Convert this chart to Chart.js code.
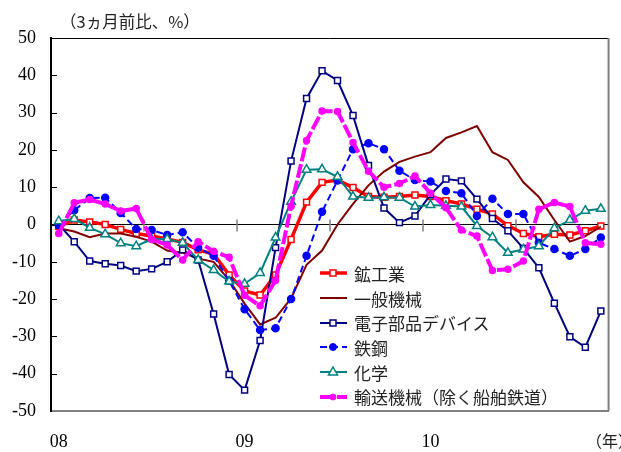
<!DOCTYPE html>
<html>
<head>
<meta charset="utf-8">
<script src="https://cdn.jsdelivr.net/npm/chart.js@4.4.0/dist/chart.umd.min.js"></script>
<style>
body { margin: 0; background: #fff; }
#wrap { position: relative; width: 621px; height: 452px; }
#chart { position: absolute; left: 0; top: 0; }
.txt { position: absolute; font-family: "Noto Sans CJK JP", sans-serif; font-size: 16px; color: #222; white-space: nowrap; line-height: 1; }
#legend { position: absolute; left: 318px; top: 261px; }
.row { height: 24.7px; display: flex; align-items: center; font-family: "Noto Sans CJK JP", sans-serif; font-size: 17px; color: #222; white-space: nowrap; }
.row svg { margin-right: 4px; }
</style>
</head>
<body>
<div id="wrap">
  <canvas id="chart" width="621" height="452"></canvas>
  <div class="txt" style="left:60px;top:13px;font-size:16.5px;">（3ヵ月前比、%）</div>
  <div class="txt" style="left:586px;top:432px;">（年）</div>
  <div id="legend"></div>
</div>
<script>
// --- Data (3ヵ月前比, %), monthly Jan 2008 - Dec 2010 ---
const years = ['08', '09', '10'];
const monthsPerYear = 12;
const categories = [];
years.forEach(y => { for (let m = 1; m <= monthsPerYear; m++) categories.push(y + '/' + m); });

const yTicks = [-50, -40, -30, -20, -10, 0, 10, 20, 30, 40, 50];

const mining = [-0.5, 1.2, 0.7, 0, -1.3, -2.4, -3.1, -3.9, -4.8, -6.8, -7.9, -13.5,
    -17.8, -18.9, -13.5, -4, 6, 11.3, 11.9, 9.9, 7.5, 7.3, 7.5, 7.9,
    7.5, 6.4, 5.5, 4.1, 2.8, -0.3, -2.4, -3.3, -2.6, -2.8, -1.7, -0.4];
const generalMachinery = [-1, -1.9, -3.4, -2.4, -2.4, -3.3, -4.6, -7, -7.6, -9.1, -10, -14.9,
    -21.2, -26.8, -25, -19.8, -10.8, -7, 0, 5.5, 10.5, 14.2, 16.8, 18.2,
    19.4, 23.2, 24.7, 26.4, 19.4, 17.3, 11.3, 7.4, 1.2, -4.6, -3.1, -0.6];
const electronics = [0, -4.6, -9.8, -10.5, -11, -12.5, -11.9, -10, -6.8, -9.5, -24, -40.2,
    -44.4, -31.1, -6.2, 17, 33.8, 41.2, 38.6, 29.2, 15.8, 4.4, 0.5, 2.3,
    8, 12.2, 11.7, 6.8, 1.6, -1.7, -6.4, -11.6, -21.1, -30.1, -32.9, -23.2];
const steel = [-0.1, 3.8, 7.1, 7.2, 3.1, -1.2, -1.5, -2.8, -2.1, -6.2, -8.4, -15.1,
    -22.7, -28.3, -27.8, -20, -8.4, 3.4, 11.8, 20.2, 21.8, 20.2, 14.4, 11.9,
    11.5, 9, 8.4, 2.3, 6.9, 2.8, 2.8, -4.9, -6.6, -8.4, -6.6, -3.5];
const chemicals = [0.9, 1.5, -0.9, -2.6, -5, -5.8, -3.9, -3.9, -4.9, -9.5, -12.2, -15.3,
    -15.9, -13, -3.5, 6.1, 14.7, 14.8, 12.8, 7.5, 7.2, 7.3, 7.2, 4.8,
    5.2, 5, 4.8, -0.4, -3.4, -7.6, -6.7, -5.8, -1, 1.2, 3.7, 4.2];
const transport = [-2.4, 5.8, 6.7, 5.5, 3.6, 4.3, -4, -5.5, -9.5, -4.6, -7.2, -8.8,
    -19, -21.8, -15, 4.9, 22.5, 30.4, 30.3, 22, 14.3, 10, 11, 13,
    8.4, 4.5, -1.5, -3.1, -12.3, -12, -9.8, 4.1, 5.9, 4.8, -4.9, -5.3];

const series = [
    { label: '鉱工業', data: mining, color: '#ff0000', width: 3.5, marker: 'rect', radius: 4.2, fill: '#ffffff' },
    { label: '一般機械', data: generalMachinery, color: '#800000', width: 2, marker: false, radius: 0 },
    { label: '電子部品デバイス', data: electronics, color: '#000080', width: 2, marker: 'rect', radius: 4.2, fill: '#ffffff' },
    { label: '鉄鋼', data: steel, color: '#0000ff', width: 2, dash: [7, 4], marker: 'circle', radius: 3.5, fill: '#0000ff' },
    { label: '化学', data: chemicals, color: '#008080', width: 2, marker: 'triangle', radius: 5, fill: '#ffffff' },
    { label: '輸送機械（除く船舶鉄道）', data: transport, color: '#ff00ff', width: 4, dash: [14, 3], marker: 'circle', radius: 3, fill: '#ff00ff' }
];

// --- Frame, inner ticks and half-year marks on the zero line ---
const framePlugin = {
    id: 'frame',
    beforeDatasetsDraw(chart) {
        const { ctx, chartArea: a, scales: { x, y } } = chart;
        ctx.save();
        const y0 = Math.round(y.getPixelForValue(0)) + 0.5;
        ctx.strokeStyle = '#808080';
        ctx.lineWidth = 1.5;
        ctx.beginPath();
        for (let k = 6; k < categories.length; k += 6) {
            const px = Math.round((x.getPixelForValue(k - 1) + x.getPixelForValue(k)) / 2);
            ctx.moveTo(px, y0 - 6);
            ctx.lineTo(px, y0 + 6);
        }
        ctx.stroke();

        ctx.strokeStyle = '#000';
        ctx.lineWidth = 1;
        ctx.beginPath();
        yTicks.forEach(v => {
            if (v === yTicks[0] || v === yTicks[yTicks.length - 1]) return;
            const py = Math.round(y.getPixelForValue(v)) + 0.5;
            ctx.moveTo(a.left, py);
            ctx.lineTo(a.left + 6, py);
        });
        ctx.stroke();

        // top and right border
        ctx.beginPath();
        ctx.strokeStyle = '#000';
        ctx.moveTo(a.left, a.top + 0.5);
        ctx.lineTo(a.right, a.top + 0.5);
        ctx.stroke();
        ctx.beginPath();
        ctx.strokeStyle = '#808080';
        ctx.lineWidth = 2;
        ctx.moveTo(a.right, a.top);
        ctx.lineTo(a.right, a.bottom);
        ctx.stroke();
        ctx.restore();
    }
};

const datasets = series.map((s, i) => ({
    label: s.label,
    data: s.data,
    borderColor: s.color,
    borderWidth: s.width,
    borderDash: s.dash || [],
    pointStyle: s.marker,
    pointRadius: s.radius,
    pointBackgroundColor: s.fill || s.color,
    pointBorderColor: s.color,
    pointBorderWidth: 1.5,
    tension: 0,
    order: series.length - i
}));

new Chart(document.getElementById('chart'), {
    type: 'line',
    data: { labels: categories, datasets },
    options: {
        responsive: false,
        animation: false,
        devicePixelRatio: 1,
        layout: { padding: { left: 0, right: 12, top: 38, bottom: 0 } },
        plugins: { legend: { display: false }, tooltip: { enabled: false } },
        scales: {
            x: {
                type: 'category',
                offset: true,
                grid: { display: false, drawTicks: false },
                border: { display: true, color: '#808080', width: 2 },
                ticks: {
                    autoSkip: false,
                    maxRotation: 0,
                    padding: 20,
                    color: '#000',
                    font: { family: 'Liberation Serif', size: 18 },
                    callback: (val, idx) => idx % monthsPerYear === 0 ? years[idx / monthsPerYear] : ''
                },
                afterFit: s => { s.height = 41; }
            },
            y: {
                min: -50,
                max: 50,
                afterBuildTicks: s => { s.ticks = yTicks.map(v => ({ value: v })); },
                grid: {
                    drawTicks: false,
                    color: c => c.tick && c.tick.value === 0 ? '#000' : 'rgba(0,0,0,0)',
                    lineWidth: 1
                },
                border: { display: true, color: '#000', width: 2 },
                ticks: {
                    padding: 15,
                    color: '#000',
                    font: { family: 'Liberation Serif', size: 18 }
                },
                afterFit: s => { s.width = 51; }
            }
        }
    },
    plugins: [framePlugin]
});

// --- Legend (line + marker samples) ---
function markerSvg(s) {
    const cx = 15, cy = 8;
    let m = '';
    if (s.marker === 'rect') {
        m = `<rect x="${cx - 3}" y="${cy - 3}" width="6" height="6" fill="${s.fill}" stroke="${s.color}" stroke-width="1.5"/>`;
    } else if (s.marker === 'circle') {
        m = `<circle cx="${cx}" cy="${cy}" r="${s.radius}" fill="${s.fill}" stroke="${s.color}" stroke-width="1"/>`;
    } else if (s.marker === 'triangle') {
        m = `<polygon points="${cx},${cy - 5} ${cx + 4.5},${cy + 3} ${cx - 4.5},${cy + 3}" fill="${s.fill}" stroke="${s.color}" stroke-width="1.5"/>`;
    }
    const dash = s.dash ? `stroke-dasharray="${s.dash.join(',')}"` : '';
    return `<svg width="32" height="16"><line x1="2" y1="${cy}" x2="29" y2="${cy}" stroke="${s.color}" stroke-width="${s.width}" ${dash}/>${m}</svg>`;
}
document.getElementById('legend').innerHTML = series.map(s =>
    `<div class="row">${markerSvg(s)}<span>${s.label}</span></div>`
).join('');
</script>
</body>
</html>
